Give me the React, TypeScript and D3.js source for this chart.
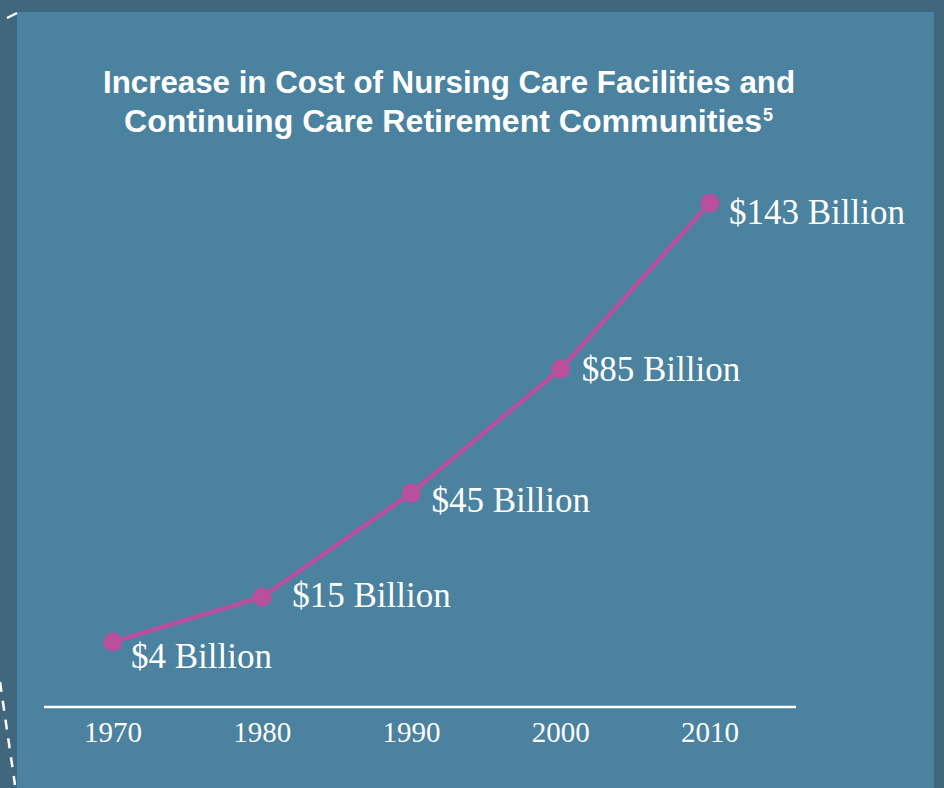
import React from "react";
import * as d3 from "d3";

const years = [1970, 1980, 1990, 2000, 2010];
const costs = [4, 15, 45, 85, 143];
const costLabels = ["$4 Billion", "$15 Billion", "$45 Billion", "$85 Billion", "$143 Billion"];
const tickLabels = ["1970", "1980", "1990", "2000", "2010"];
const titleLines = ["Increase in Cost of Nursing Care Facilities and", "Continuing Care Retirement Communities"];
const titleNote = "5";

// label offsets relative to each point (layout)
const labelDx = [18, 30, 20, 21, 19];
const labelDy = [26, 10, 19, 12, 21];

const W = 944;
const H = 788;

export default function App() {
  const x = d3.scaleLinear().domain([1970, 2010]).range([113, 710]);
  const y = d3.scalePow().exponent(0.86).domain([4, 143]).range([642, 203]);
  const line = d3
    .line<number>()
    .x((_, i) => x(years[i]))
    .y((d) => y(d));

  const serif = "'Liberation Serif', 'DejaVu Serif', serif";
  const sans = "'Liberation Sans', Arial, sans-serif";

  return (
    <div style={{ position: "fixed", left: 0, top: 0 }}>
      <svg width={W} height={H} viewBox={`0 0 ${W} ${H}`} style={{ display: "block" }}>
        <rect x={0} y={0} width={W} height={H} fill="#41677f" />
        <rect x={17} y={12} width={917} height={H - 12} fill="#4a82a0" />
        <line x1={7} y1={18} x2={17} y2={13} stroke="#fff" strokeWidth={2.5} />
        <line x1={0} y1={682} x2={15} y2={785} stroke="#fff" strokeWidth={2.5} strokeDasharray="10,9" />

        <g fill="#fff" fontFamily={sans} fontWeight="bold" fontSize={32}>
          <text x={103} y={93} textLength={692} lengthAdjust="spacingAndGlyphs">{titleLines[0]}</text>
          <text x={124} y={132} textLength={638} lengthAdjust="spacingAndGlyphs">{titleLines[1]}</text>
          <text x={763} y={121} fontSize={18}>{titleNote}</text>
        </g>

        <line x1={44} y1={707} x2={796} y2={707} stroke="#fff" strokeWidth={2.5} />
        <g fill="#fff" fontFamily={serif} fontSize={29} textAnchor="middle">
          {tickLabels.map((t, i) => (
            <text key={t} x={x(years[i])} y={742}>{t}</text>
          ))}
        </g>

        <path d={line(costs) || ""} fill="none" stroke="#b8509e" strokeWidth={4.5} />
        {costs.map((c, i) => (
          <circle key={i} cx={x(years[i])} cy={y(c)} r={9.5} fill="#b8509e" />
        ))}
        <g fill="#fff" fontFamily={serif} fontSize={35}>
          {costs.map((c, i) => (
            <text key={i} x={x(years[i]) + labelDx[i]} y={y(c) + labelDy[i]}>{costLabels[i]}</text>
          ))}
        </g>
      </svg>
    </div>
  );
}
